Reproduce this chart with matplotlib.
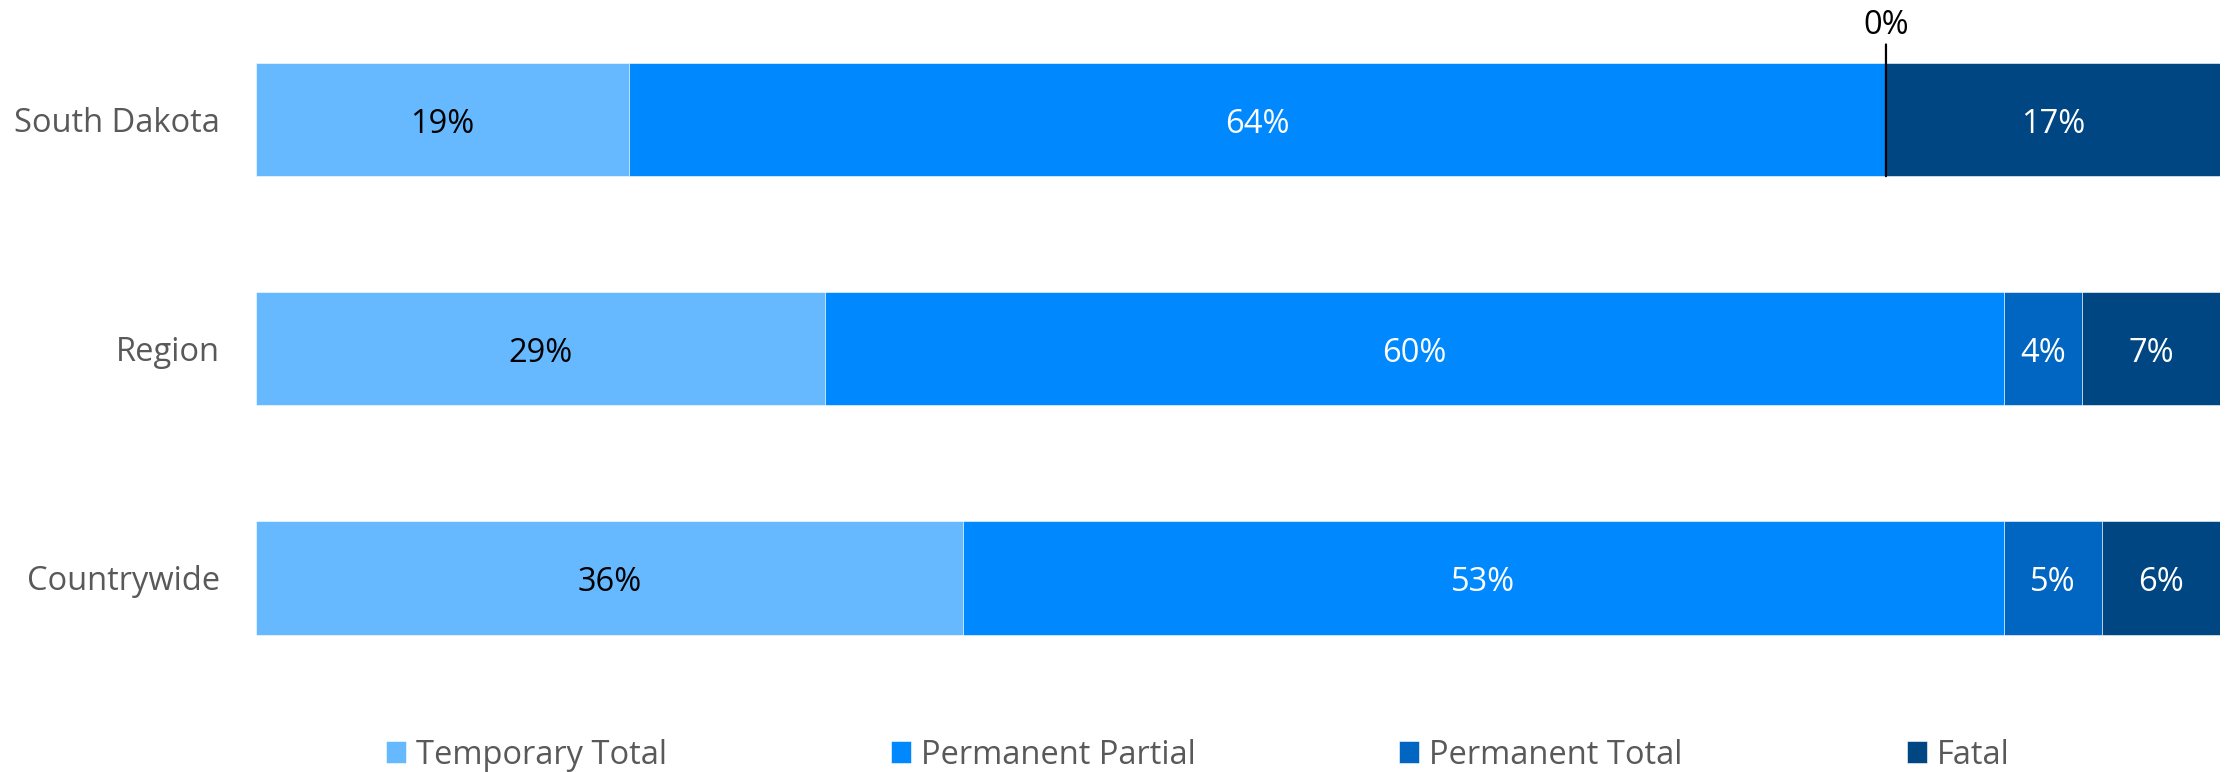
import numpy as np
import matplotlib.pyplot as plt

plt.rcParams['font.family'] = ['Open Sans', 'DejaVu Sans']

groups = ['South Dakota', 'Region', 'Countrywide']
series = ['Temporary Total', 'Permanent Partial', 'Permanent Total', 'Fatal']
temporary_total = [19, 29, 36]
permanent_partial = [64, 60, 53]
permanent_total = [0, 4, 5]
fatal = [17, 7, 6]

values = [temporary_total, permanent_partial, permanent_total, fatal]
colors = ['#66B8FF', '#0089FF', '#0066C2', '#004682']
label_colors = ['black', 'white', 'white', 'white']
fs = 23.5

fig = plt.figure(figsize=(22.31, 7.72), dpi=100)
ax = fig.add_axes([0.1147, 0.103, 0.8803, 0.8905])

y = np.arange(len(groups))
left = np.zeros(len(groups))
handles = []
for name, vals, c, lc in zip(series, values, colors, label_colors):
    vals = np.array(vals, dtype=float)
    b = ax.barh(y, vals, left=left, height=0.494, color=c, label=name,
                edgecolor='white', linewidth=0.4)
    handles.append(b)
    for yi, v, l in zip(y, vals, left):
        if v > 0:
            ax.text(l + v / 2, yi + 0.02, f'{v:.0f}%', ha='center', va='center',
                    color=lc, fontsize=fs)
        else:
            # zero-valued segment: callout label above the bar
            ax.annotate(f'{v:.0f}%', xy=(l, yi + 0.247), xytext=(l, yi - 0.34),
                        ha='center', va='bottom', fontsize=fs, color='black',
                        arrowprops=dict(arrowstyle='-', color='black', lw=1.6,
                                        shrinkA=0, shrinkB=0))
    left += vals

ax.set_xlim(0, 100)
ax.set_ylim(2.5, -0.5)
ax.set_yticks(y)
ax.set_yticklabels(groups, fontsize=fs, color='#595959')
ax.tick_params(axis='y', length=0, pad=26)
ax.set_xticks([])
for s in ax.spines.values():
    s.set_visible(False)

# legend entries spaced evenly like the source chart
legend_x = [0.1728, 0.3992, 0.6269, 0.8546]
for h, name, lx in zip(handles, series, legend_x):
    fig.legend([h], [name], loc='center left', bbox_to_anchor=(lx, 0.022),
               frameon=False, fontsize=fs, labelcolor='#595959',
               handlelength=0.62, handleheight=0.62, handletextpad=0.3,
               borderpad=0, borderaxespad=0)

fig.savefig('out.png', dpi=100)
